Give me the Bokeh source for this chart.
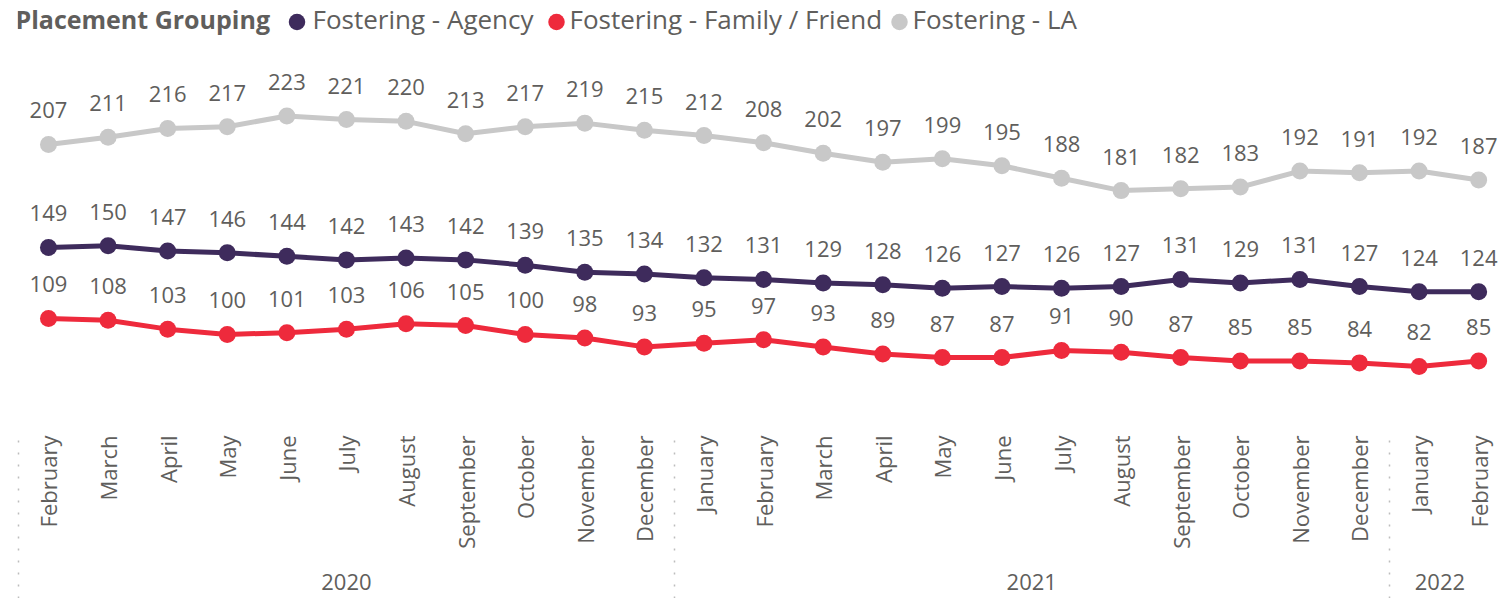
import math
from bokeh.plotting import figure
from bokeh.layouts import column
from bokeh.models import Range1d, LinearAxis, FixedTicker, ColumnDataSource
from bokeh.embed import file_html
from bokeh.resources import INLINE
from bokeh.core.properties import value

# ---- data ----
months = ["February", "March", "April", "May", "June", "July", "August", "September",
          "October", "November", "December",
          "January", "February", "March", "April", "May", "June", "July", "August",
          "September", "October", "November", "December",
          "January", "February"]
years = ["2020"] * 11 + ["2021"] * 12 + ["2022"] * 2
legend_title = "Placement Grouping"
series_names = ["Fostering - Agency", "Fostering - Family / Friend", "Fostering - LA"]
agency = [149, 150, 147, 146, 144, 142, 143, 142, 139, 135, 134, 132, 131, 129, 128,
          126, 127, 126, 127, 131, 129, 131, 127, 124, 124]
family = [109, 108, 103, 100, 101, 103, 106, 105, 100, 98, 93, 95, 97, 93, 89,
          87, 87, 91, 90, 87, 85, 85, 84, 82, 85]
la = [207, 211, 216, 217, 223, 221, 220, 213, 217, 219, 215, 212, 208, 202, 197,
      199, 195, 188, 181, 182, 183, 192, 191, 192, 187]

# ---- style ----
PURPLE = "#3E2B5C"
RED = "#EE2A3C"
GRAY = "#C8C8C8"
TXT = "#605E5C"
FONT = "Open Sans"
W = 1502
LEG_H = 40
MAIN_H = 558
LEFT = 17  # frame left border (shared by both stacked figures)

# ---------------- legend strip ----------------
leg = figure(width=W, height=LEG_H, x_range=Range1d(LEFT, W), y_range=Range1d(0, LEG_H),
             output_backend="svg", toolbar_location=None,
             x_axis_location=None, y_axis_location=None,
             min_border_left=LEFT, min_border_right=0, min_border_top=0, min_border_bottom=0)
leg.outline_line_color = None
leg.xgrid.visible = False
leg.ygrid.visible = False
LY = LEG_H - 18
leg.text(x=[15], y=[LY], text=[legend_title], text_font=value(FONT), text_font_size="25px",
         text_font_style="bold", text_color=TXT, text_baseline="middle", text_align="left")
leg_colors = [PURPLE, RED, GRAY]
leg_bullet_x = [296.5, 556, 899]
leg_text_x = [312, 569, 912]
leg.scatter(x=leg_bullet_x, y=[LEG_H - 21.5] * 3, size=16.5, fill_color=leg_colors,
            line_color=None)
leg.text(x=leg_text_x, y=[LY] * 3, text=series_names, text_font=value(FONT),
         text_font_size="26px", text_color=TXT, text_baseline="middle", text_align="left")

# ---------------- main chart ----------------
idx = list(range(len(months)))
x_start, x_end = -0.52, 24.40

p = figure(width=W, height=MAIN_H,
           x_range=Range1d(x_start, x_end), y_range=Range1d(44.8, 259.9),
           output_backend="svg", toolbar_location=None,
           x_axis_location=None, y_axis_location=None,
           min_border_left=LEFT, min_border_right=0, min_border_top=10, min_border_bottom=0)
p.outline_line_color = None
p.xgrid.visible = False
p.ygrid.visible = False

# group boundaries / centers derived from year list
groups = []
for i, y in enumerate(years):
    if not groups or groups[-1][0] != y:
        groups.append([y, i, i])
    else:
        groups[-1][2] = i
seps = [g[1] - 0.5 for g in groups]
year_pos = [(max(x_start, g[1] - 0.5) + min(x_end - 0.2, g[2] + 0.5)) / 2 for g in groups]

month_axis = LinearAxis(
    ticker=FixedTicker(ticks=idx),
    major_label_overrides={i: m for i, m in enumerate(months)},
    major_label_orientation=math.pi / 2, major_label_standoff=3,
    major_label_text_font=FONT, major_label_text_font_size="22px",
    major_label_text_color=TXT,
    axis_line_color=None, major_tick_line_color=None, major_tick_out=0, major_tick_in=0,
    minor_tick_line_color=None, minor_tick_out=0, minor_tick_in=0)
p.add_layout(month_axis, "below")

year_axis = LinearAxis(
    ticker=FixedTicker(ticks=year_pos),
    major_label_overrides={pos: g[0] for pos, g in zip(year_pos, groups)},
    major_label_standoff=22,
    major_label_text_font=FONT, major_label_text_font_size="22px",
    major_label_text_color=TXT,
    axis_line_color=None, major_tick_line_color=None, major_tick_out=0, major_tick_in=0,
    minor_tick_line_color=None, minor_tick_out=0, minor_tick_in=0)
p.add_layout(year_axis, "below")

# separators: outermost axis whose minor ticks run up through the label area
sep_axis = LinearAxis(
    ticker=FixedTicker(ticks=[], minor_ticks=seps),
    major_label_standoff=0, major_label_text_font_size="0px",
    axis_line_color=None, major_tick_line_color=None, major_tick_out=0, major_tick_in=0,
    minor_tick_out=6, minor_tick_in=162, minor_tick_line_color="#BDBDBD",
    minor_tick_line_dash="2 10", minor_tick_line_width=1.5)
p.add_layout(sep_axis, "below")

series = [(la, GRAY), (agency, PURPLE), (family, RED)]
for vals, color in series:
    src = ColumnDataSource(dict(x=idx, y=vals))
    p.line("x", "y", source=src, line_color=color, line_width=5)
    p.scatter("x", "y", source=src, size=17, fill_color=color, line_color=None)
for vals, color in series:
    src = ColumnDataSource(dict(x=idx, y=vals, t=[str(v) for v in vals]))
    p.text("x", "y", text="t", source=src, text_align="center", text_baseline="middle",
           y_offset=-34, text_font=value(FONT), text_font_size="22px", text_color=TXT)

layout = column(leg, p, spacing=0)
open("out.html", "w").write(file_html(layout, INLINE))
